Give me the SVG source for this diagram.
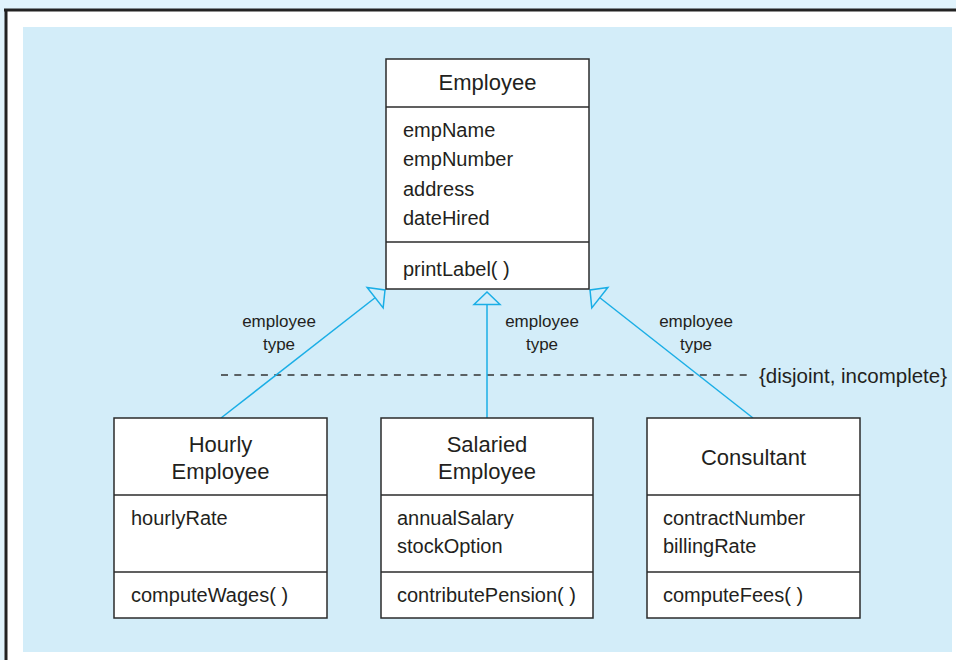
<svg xmlns="http://www.w3.org/2000/svg" width="956" height="660" viewBox="0 0 956 660">
<style>
text{font-family:"Liberation Sans",Arial,sans-serif;fill:#231f20}
.title{font-size:22px;text-anchor:middle}
.attr{font-size:20px}
.lbl{font-size:17px;text-anchor:middle}
.box{fill:#ffffff;stroke:#2b2b2b;stroke-width:1.5}
.div{stroke:#2b2b2b;stroke-width:1.5}
.conn{stroke:#1aaee6;stroke-width:1.5;fill:none}
</style>
<defs>
<marker id="tri" markerUnits="userSpaceOnUse" viewBox="0 0 16 30" markerWidth="16" markerHeight="30" refX="14" refY="15" orient="auto">
<path d="M1.5,2 L14,15 L1.5,28 Z" fill="#d3edf9" stroke="#1aaee6" stroke-width="1.5"/>
</marker>
</defs>
<rect x="0" y="0" width="956" height="660" fill="#e0f3fc"/>
<rect x="5" y="9" width="951" height="651" fill="#ffffff"/>
<line x1="4" y1="10" x2="956" y2="10" stroke="#222" stroke-width="3"/>
<line x1="6" y1="9" x2="6" y2="660" stroke="#222" stroke-width="3"/>
<rect x="23" y="27" width="929" height="625" fill="#d3edf9"/>

<g id="connectors">
<line x1="221" y1="375" x2="753" y2="375" stroke="#333" stroke-width="1.3" stroke-dasharray="7 6.3"/>
<line class="conn" x1="221" y1="418" x2="385" y2="290" marker-end="url(#tri)"/>
<line class="conn" x1="487" y1="418" x2="487" y2="292" marker-end="url(#tri)"/>
<line class="conn" x1="753" y1="418" x2="590" y2="290" marker-end="url(#tri)"/>
<text class="lbl" x="279" y="327">employee</text>
<text class="lbl" x="279" y="350">type</text>
<text class="lbl" x="542" y="327">employee</text>
<text class="lbl" x="542" y="350">type</text>
<text class="lbl" x="696" y="327">employee</text>
<text class="lbl" x="696" y="350">type</text>
<text class="attr" x="759" y="383" style="font-size:20.5px">{disjoint, incomplete}</text>
</g>

<g id="employee">
<rect class="box" x="386" y="59" width="203" height="230"/>
<line class="div" x1="386" y1="107" x2="589" y2="107"/>
<line class="div" x1="386" y1="242" x2="589" y2="242"/>
<text class="title" x="487.5" y="90">Employee</text>
<text class="attr" x="403" y="137">empName</text>
<text class="attr" x="403" y="166">empNumber</text>
<text class="attr" x="403" y="196">address</text>
<text class="attr" x="403" y="225">dateHired</text>
<text class="attr" x="403" y="276">printLabel( )</text>
</g>

<g id="hourly">
<rect class="box" x="114" y="418" width="213" height="200"/>
<line class="div" x1="114" y1="495" x2="327" y2="495"/>
<line class="div" x1="114" y1="572" x2="327" y2="572"/>
<text class="title" x="220.5" y="452">Hourly</text>
<text class="title" x="220.5" y="479">Employee</text>
<text class="attr" x="131" y="525">hourlyRate</text>
<text class="attr" x="131" y="602">computeWages( )</text>
</g>

<g id="salaried">
<rect class="box" x="381" y="418" width="212" height="200"/>
<line class="div" x1="381" y1="495" x2="593" y2="495"/>
<line class="div" x1="381" y1="572" x2="593" y2="572"/>
<text class="title" x="487" y="452">Salaried</text>
<text class="title" x="487" y="479">Employee</text>
<text class="attr" x="397" y="525">annualSalary</text>
<text class="attr" x="397" y="553">stockOption</text>
<text class="attr" x="397" y="602">contributePension( )</text>
</g>

<g id="consultant">
<rect class="box" x="647" y="418" width="213" height="200"/>
<line class="div" x1="647" y1="495" x2="860" y2="495"/>
<line class="div" x1="647" y1="572" x2="860" y2="572"/>
<text class="title" x="753.5" y="465">Consultant</text>
<text class="attr" x="663" y="525">contractNumber</text>
<text class="attr" x="663" y="553">billingRate</text>
<text class="attr" x="663" y="602">computeFees( )</text>
</g>
</svg>
